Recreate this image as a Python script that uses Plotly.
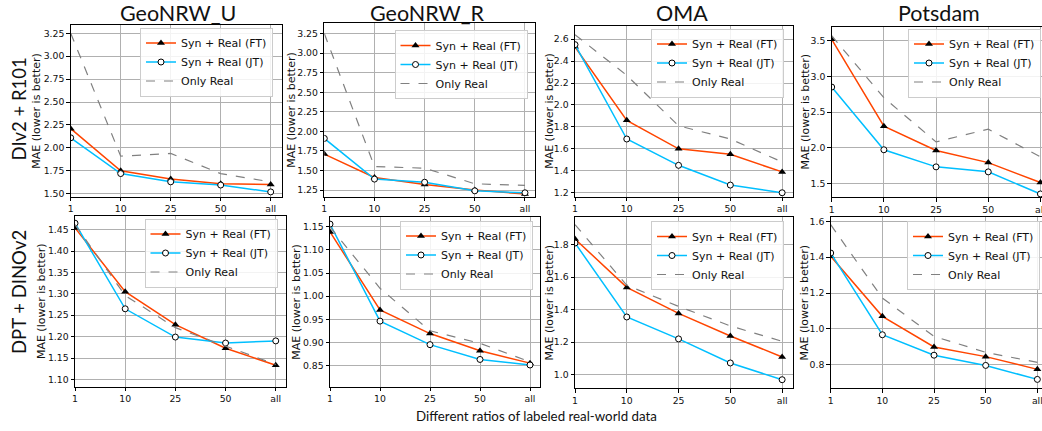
import plotly.graph_objects as go

W, H = 1042, 431

ratios = ["1", "10", "25", "50", "all"]
datasets = ["GeoNRW_U", "GeoNRW_R", "OMA", "Potsdam"]
row_labels = ["DIv2 + R101", "DPT + DINOv2"]
series_names = ["Syn + Real (FT)", "Syn + Real (JT)", "Only Real"]

# Row 1: DIv2 + R101
ft_dlv2_geonrw_u = [2.21, 1.75, 1.66, 1.61, 1.60]
jt_dlv2_geonrw_u = [2.11, 1.72, 1.63, 1.595, 1.52]
real_dlv2_geonrw_u = [3.25, 1.91, 1.94, 1.72, 1.63]

ft_dlv2_geonrw_r = [1.71, 1.41, 1.32, 1.25, 1.20]
jt_dlv2_geonrw_r = [1.91, 1.39, 1.35, 1.24, 1.215]
real_dlv2_geonrw_r = [3.25, 1.55, 1.53, 1.33, 1.31]

ft_dlv2_oma = [2.53, 1.86, 1.60, 1.55, 1.39]
jt_dlv2_oma = [2.55, 1.69, 1.45, 1.27, 1.20]
real_dlv2_oma = [2.64, 2.27, 1.81, 1.69, 1.48]

ft_dlv2_potsdam = [3.52, 2.30, 1.96, 1.79, 1.51]
jt_dlv2_potsdam = [2.85, 1.97, 1.73, 1.66, 1.35]
real_dlv2_potsdam = [3.57, 2.70, 2.08, 2.26, 1.87]

# Row 2: DPT + DINOv2
ft_dpt_geonrw_u = [1.454, 1.305, 1.228, 1.173, 1.133]
jt_dpt_geonrw_u = [1.465, 1.265, 1.199, 1.185, 1.190]
real_dpt_geonrw_u = [1.462, 1.296, 1.221, 1.178, 1.135]

ft_dpt_geonrw_r = [1.139, 0.970, 0.919, 0.882, 0.855]
jt_dpt_geonrw_r = [1.156, 0.946, 0.895, 0.863, 0.851]
real_dpt_geonrw_r = [1.150, 1.017, 0.925, 0.898, 0.858]

ft_dpt_oma = [1.835, 1.537, 1.377, 1.238, 1.109]
jt_dpt_oma = [1.810, 1.355, 1.220, 1.072, 0.969]
real_dpt_oma = [1.923, 1.550, 1.420, 1.300, 1.205]

ft_dpt_potsdam = [1.405, 1.070, 0.899, 0.845, 0.774]
jt_dpt_potsdam = [1.423, 0.967, 0.853, 0.796, 0.718]
real_dpt_potsdam = [1.581, 1.172, 0.958, 0.869, 0.813]

# y ticks per panel
yt_dlv2_geonrw_u = [1.50, 1.75, 2.00, 2.25, 2.50, 2.75, 3.00, 3.25]
yt_dlv2_geonrw_r = [1.25, 1.50, 1.75, 2.00, 2.25, 2.50, 2.75, 3.00, 3.25]
yt_dlv2_oma = [1.2, 1.4, 1.6, 1.8, 2.0, 2.2, 2.4, 2.6]
yt_dlv2_potsdam = [1.5, 2.0, 2.5, 3.0, 3.5]
yt_dpt_geonrw_u = [1.10, 1.15, 1.20, 1.25, 1.30, 1.35, 1.40, 1.45]
yt_dpt_geonrw_r = [0.85, 0.90, 0.95, 1.00, 1.05, 1.10, 1.15]
yt_dpt_oma = [1.0, 1.2, 1.4, 1.6, 1.8]
yt_dpt_potsdam = [0.8, 1.0, 1.2, 1.4, 1.6]

panels = [
    (ft_dlv2_geonrw_u, jt_dlv2_geonrw_u, real_dlv2_geonrw_u, yt_dlv2_geonrw_u, 2),
    (ft_dlv2_geonrw_r, jt_dlv2_geonrw_r, real_dlv2_geonrw_r, yt_dlv2_geonrw_r, 2),
    (ft_dlv2_oma, jt_dlv2_oma, real_dlv2_oma, yt_dlv2_oma, 1),
    (ft_dlv2_potsdam, jt_dlv2_potsdam, real_dlv2_potsdam, yt_dlv2_potsdam, 1),
    (ft_dpt_geonrw_u, jt_dpt_geonrw_u, real_dpt_geonrw_u, yt_dpt_geonrw_u, 2),
    (ft_dpt_geonrw_r, jt_dpt_geonrw_r, real_dpt_geonrw_r, yt_dpt_geonrw_r, 2),
    (ft_dpt_oma, jt_dpt_oma, real_dpt_oma, yt_dpt_oma, 1),
    (ft_dpt_potsdam, jt_dpt_potsdam, real_dpt_potsdam, yt_dpt_potsdam, 1),
]

# layout geometry (pixels): left, right, top, bottom of plot areas
boxes = [
    (70.7, 281.7, 25.0, 196.5),
    (324.3, 535.0, 23.0, 196.7),
    (575.0, 793.0, 26.0, 196.7),
    (831.7, 1042.0, 26.5, 197.3),
    (75.0, 285.8, 215.5, 386.7),
    (330.0, 540.0, 216.7, 386.7),
    (575.0, 793.0, 217.0, 388.0),
    (830.7, 1042.0, 217.0, 388.0),
]
xranges = [4.22, 4.2, 4.21, 4.03, 4.2, 4.2, 4.21, 4.09]
yranges = [
    (1.47, 3.34), (1.165, 3.385), (1.164, 2.72), (1.303, 3.70),
    (1.083, 1.483), (0.804, 1.172), (0.918, 1.970), (0.67, 1.624),
]
legend_pos = [
    (140.0, 27.5), (394.5, 30.0), (651.0, 28.5), (908.0, 28.5),
    (144.5, 218.5), (400.0, 220.5), (651.0, 221.0), (907.0, 221.0),
]
ytitle_x = [37.0, 292.0, 549.5, 805.5, 41.0, 297.0, 549.0, 804.0]
title_cx = [177.5, 427.0, 681.7, 939.0]

FT_COLOR = "#FF4500"
JT_COLOR = "#00BFFF"
REAL_COLOR = "#808080"
TICKFONT = dict(family="DejaVu Sans", size=9.3, color="#111111")

fig = go.Figure()
layout = dict(
    width=W, height=H,
    margin=dict(l=0, r=0, t=0, b=0, autoexpand=False),
    paper_bgcolor="white", plot_bgcolor="white",
    showlegend=True,
)
annotations = []

for i, (ft, jt, real, yt, dec) in enumerate(panels):
    n = i + 1
    xa = "x" if n == 1 else f"x{n}"
    ya = "y" if n == 1 else f"y{n}"
    lg = "legend" if n == 1 else f"legend{n}"
    l, r, t, b = boxes[i]
    common = dict(xaxis=xa, yaxis=ya, legend=lg, x=ratios)
    fig.add_trace(go.Scatter(y=ft, name=series_names[0], mode="lines+markers",
                             line=dict(color=FT_COLOR, width=1.5),
                             marker=dict(symbol="triangle-up", size=7, color="black"),
                             **common))
    fig.add_trace(go.Scatter(y=jt, name=series_names[1], mode="lines+markers",
                             line=dict(color=JT_COLOR, width=1.5),
                             marker=dict(symbol="circle", size=6, color="white",
                                         line=dict(color="black", width=1)),
                             **common))
    fig.add_trace(go.Scatter(y=real, name=series_names[2], mode="lines",
                             line=dict(color=REAL_COLOR, width=1.2, dash="dash"),
                             **common))
    xkey = "xaxis" if n == 1 else f"xaxis{n}"
    ykey = "yaxis" if n == 1 else f"yaxis{n}"
    layout[xkey] = dict(
        domain=[l / W, r / W], anchor=ya, type="category",
        range=[0, xranges[i]], showgrid=True, gridcolor="#b0b0b0", gridwidth=0.8,
        showline=True, linecolor="black", linewidth=1, mirror=True,
        ticks="outside", ticklen=3.5, tickcolor="black", tickwidth=0.8,
        tickfont=TICKFONT, automargin=False, zeroline=False,
        ticklabeloverflow="allow",
    )
    layout[ykey] = dict(
        domain=[1 - b / H, 1 - t / H], anchor=xa,
        range=list(yranges[i]), tickmode="array", tickvals=yt,
        ticktext=[f"{v:.{dec}f}" for v in yt],
        showgrid=True, gridcolor="#b0b0b0", gridwidth=0.8,
        showline=True, linecolor="black", linewidth=1, mirror=True,
        ticks="outside", ticklen=3.5, tickcolor="black", tickwidth=0.8,
        tickfont=TICKFONT, automargin=False, zeroline=False,
        ticklabeloverflow="allow",
    )
    lx, ly = legend_pos[i]
    layout[lg] = dict(
        x=lx / W, y=1 - ly / H, xanchor="left", yanchor="top",
        xref="paper", yref="paper",
        bgcolor="rgba(255,255,255,0.85)", bordercolor="#cccccc", borderwidth=1,
        font=dict(family="DejaVu Sans", size=11, color="#111111"),
        tracegroupgap=0, itemwidth=30,
    )
    annotations.append(dict(
        text="MAE (lower is better)", textangle=-90, showarrow=False,
        xref="paper", yref="paper", x=ytitle_x[i] / W, y=1 - ((t + b) / 2) / H,
        xanchor="center", yanchor="middle",
        font=dict(family="DejaVu Sans", size=11, color="#111111"),
    ))

for j, name in enumerate(datasets):
    annotations.append(dict(
        text=name, showarrow=False, xref="paper", yref="paper",
        x=title_cx[j] / W, y=1 - 12.5 / H, xanchor="center", yanchor="middle",
        font=dict(family="Lato", size=21.5, color="#111111"),
    ))

row_y = [109.0, 292.5]
for k, name in enumerate(row_labels):
    annotations.append(dict(
        text=name, textangle=-90, showarrow=False, xref="paper", yref="paper",
        x=18.5 / W, y=1 - row_y[k] / H, xanchor="center", yanchor="middle",
        font=dict(family="Lato", size=18.5, color="#111111"),
    ))

annotations.append(dict(
    text="Different ratios of labeled real-world data", showarrow=False,
    xref="paper", yref="paper", x=536 / W, y=1 - 416 / H,
    xanchor="center", yanchor="middle",
    font=dict(family="Lato", size=13.3, color="#111111"),
))

layout["annotations"] = annotations
fig.update_layout(**layout)
fig.write_html(
    "out.html",
    config={"displayModeBar": False},
    post_script="document.body.style.margin='0';document.body.style.padding='0';",
)
